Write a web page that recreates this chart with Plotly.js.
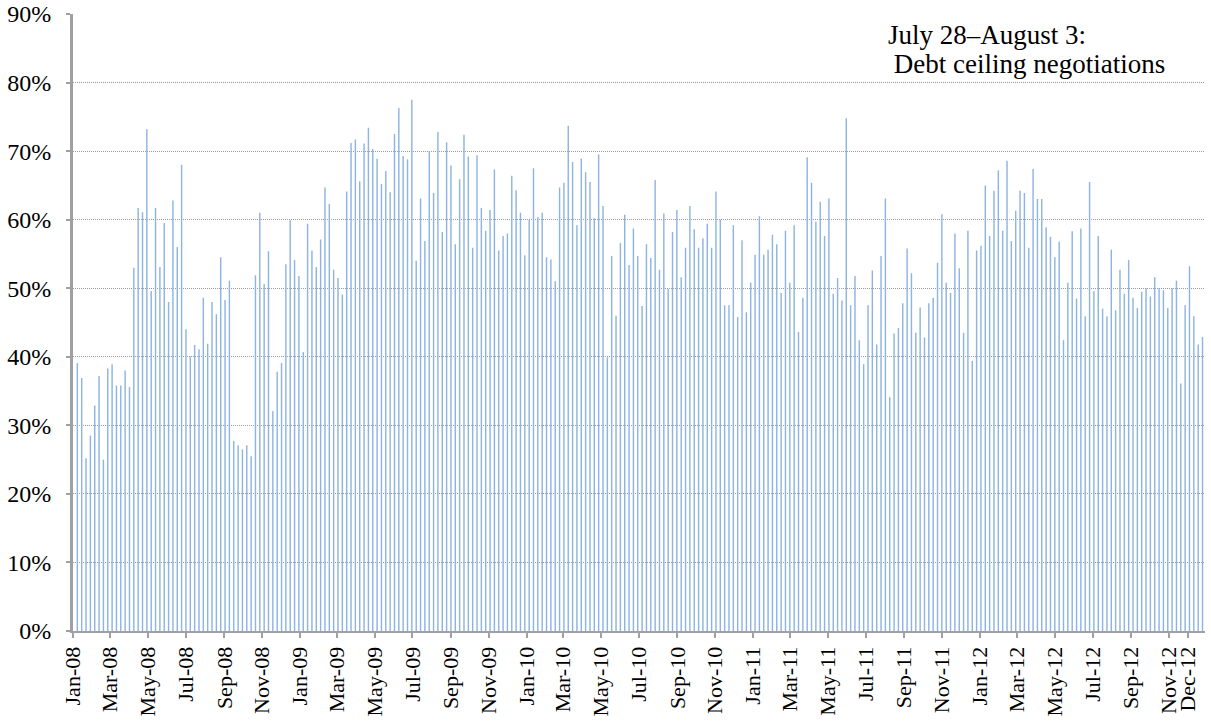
<!DOCTYPE html>
<html>
<head>
<meta charset="utf-8">
<script src="https://cdn.plot.ly/plotly-3.0.1.min.js"></script>
<style>
html,body{margin:0;padding:0;background:#fff;}
#chart{width:1211px;height:723px;}
</style>
</head>
<body>
<div id="chart"></div>
<script>
// Weekly series: first week and weekly share values (%)
const firstWeek = '2008-01-08';
const shares = [
39.1,36.9,25.2,28.5,32.9,37.2,25.0,38.3,38.9,35.8,35.8,38.0,35.6,53.0,61.7,61.1,73.2,49.6,61.7,53.1,59.5,48.0,62.8,56.0,68.0,
44.0,40.0,41.7,41.1,48.6,41.9,48.0,46.2,54.5,48.3,51.1,27.7,27.1,26.5,27.1,25.5,51.9,61.0,50.6,55.4,32.1,37.8,39.1,53.5,59.9,54.1,51.8,
40.7,59.4,55.5,53.1,57.1,64.7,62.3,52.7,51.5,49.1,64.1,71.2,71.7,65.6,71.1,73.4,70.3,68.9,65.2,67.1,64.0,72.5,76.3,69.3,68.8,77.5,
54.0,63.1,56.9,70.0,63.9,72.8,58.2,71.3,67.9,56.4,65.9,72.4,69.2,55.9,69.4,61.7,58.4,61.4,67.3,55.5,57.6,58.0,66.4,64.3,61.0,54.8,60.0,
67.5,60.4,61.0,54.5,54.2,51.0,64.7,65.4,73.7,68.4,59.2,68.9,66.9,65.5,60.2,69.5,62.0,39.9,54.7,46.0,56.6,60.7,53.4,58.7,54.7,47.4,
56.4,54.4,65.8,52.7,60.9,49.9,58.2,61.4,51.6,55.9,62.0,58.6,55.9,57.3,59.4,55.9,64.1,60.0,47.5,47.5,59.2,45.8,57.0,46.5,50.8,54.9,60.5,
54.9,55.6,57.8,56.4,49.3,58.4,50.8,59.2,43.6,48.6,69.1,65.4,59.7,62.6,57.6,63.1,49.2,51.5,48.2,74.8,47.5,51.8,42.4,38.9,47.5,52.6,
41.8,54.7,63.1,34.1,43.4,44.2,47.8,55.8,52.2,43.5,47.2,42.8,47.8,48.6,53.7,60.8,50.8,49.3,58.0,52.9,43.5,58.4,39.4,55.5,56.2,65.0,57.6,
64.2,67.2,58.4,68.6,56.9,61.3,64.2,63.9,55.9,67.4,63.0,63.0,58.9,57.5,54.5,56.8,42.4,50.8,58.3,48.5,58.7,45.9,65.5,49.6,57.6,47.0,
45.9,55.6,46.8,52.7,49.2,54.1,48.6,47.1,49.5,50.0,48.8,51.6,50.0,49.7,47.1,50.0,51.1,36.1,47.5,53.2,45.9,41.8,42.9
];
const tickDates = ['2008-01-01','2008-03-01','2008-05-01','2008-07-01','2008-09-01','2008-11-01',
'2009-01-01','2009-03-01','2009-05-01','2009-07-01','2009-09-01','2009-11-01',
'2010-01-01','2010-03-01','2010-05-01','2010-07-01','2010-09-01','2010-11-01',
'2011-01-01','2011-03-01','2011-05-01','2011-07-01','2011-09-01','2011-11-01',
'2012-01-01','2012-03-01','2012-05-01','2012-07-01','2012-09-01','2012-11-01','2012-12-01'];
const tickLabels = ['Jan-08','Mar-08','May-08','Jul-08','Sep-08','Nov-08',
'Jan-09','Mar-09','May-09','Jul-09','Sep-09','Nov-09',
'Jan-10','Mar-10','May-10','Jul-10','Sep-10','Nov-10',
'Jan-11','Mar-11','May-11','Jul-11','Sep-11','Nov-11',
'Jan-12','Mar-12','May-12','Jul-12','Sep-12','Nov-12','Dec-12'];
const noteLine1 = 'July 28\u2013August 3:';
const noteLine2 = ' Debt ceiling negotiations';

const DAY = 86400000;
const t0 = new Date(firstWeek + 'T00:00:00Z').getTime();
const weeks = shares.map((_, i) => new Date(t0 + i * 7 * DAY).toISOString().slice(0, 10));

const font = 'Liberation Serif, Times New Roman, serif';
const trace = {
  type: 'bar',
  x: weeks,
  y: shares,
  width: shares.map(() => 2.3 * DAY),
  marker: {color: '#8db4e2', line: {width: 0}},
  hoverinfo: 'x+y'
};
const layout = {
  width: 1211, height: 723,
  margin: {l: 73, r: 6, t: 14, b: 92},
  paper_bgcolor: '#fff', plot_bgcolor: '#fff',
  showlegend: false,
  font: {family: font, color: '#000'},
  xaxis: {
    type: 'date',
    range: ['2008-01-01', '2012-12-29'],
    tickmode: 'array', tickvals: tickDates, ticktext: tickLabels,
    tickangle: -90,
    tickfont: {family: font, size: 22, color: '#000'},
    ticks: 'outside', ticklen: 5, tickcolor: '#a0a0a0', tickwidth: 2,
    showline: true, linecolor: '#a0a0a0', linewidth: 2,
    showgrid: false, zeroline: false
  },
  yaxis: {
    range: [0, 90], dtick: 10, tick0: 0,
    ticksuffix: '%',
    tickfont: {family: font, size: 24, color: '#000'},
    ticks: 'outside', ticklen: 4, tickcolor: '#a0a0a0', tickwidth: 2,
    ticklabelstandoff: 10,
    showline: true, linecolor: '#a0a0a0', linewidth: 3,
    showgrid: true, gridcolor: '#9a9a9a', gridwidth: 1, griddash: '1px,1px',
    zeroline: false
  },
  annotations: [{
    xref: 'paper', yref: 'paper', x: 0.718, y: 0.966,
    xanchor: 'left', yanchor: 'middle', align: 'left',
    text: noteLine1, showarrow: false,
    font: {family: font, size: 27, color: '#000'}
  }, {
    xref: 'paper', yref: 'paper', x: 0.717, y: 0.919,
    xanchor: 'left', yanchor: 'middle', align: 'left',
    text: noteLine2, showarrow: false,
    font: {family: font, size: 27, color: '#000'}
  }]
};
Plotly.newPlot('chart', [trace], layout, {displayModeBar: false, staticPlot: true});
</script>
</body>
</html>
